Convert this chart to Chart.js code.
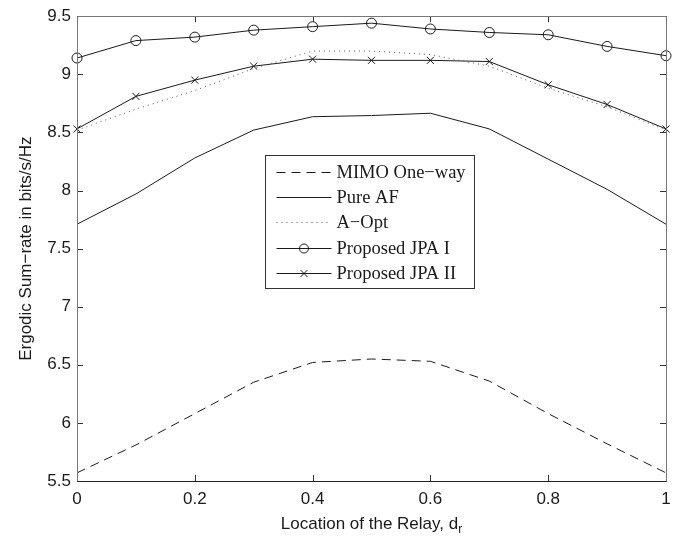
<!DOCTYPE html>
<html>
<head>
<meta charset="utf-8">
<script src="https://cdn.jsdelivr.net/npm/chart.js@4"></script>
<style>
  body { margin: 0; background: #fff; }
  #wrap { width: 690px; height: 542px; }
</style>
</head>
<body>
<div id="wrap"><canvas id="rateChart" width="690" height="542"></canvas></div>
<script>
const relayLocation = [0, 0.1, 0.2, 0.3, 0.4, 0.5, 0.6, 0.7, 0.8, 0.9, 1];
const mimoOneWay = [5.57, 5.81, 6.08, 6.35, 6.52, 6.55, 6.53, 6.36, 6.08, 5.82, 5.57];
const pureAF = [7.71, 7.97, 8.28, 8.52, 8.635, 8.645, 8.665, 8.53, 8.27, 8.01, 7.71];
const aOpt = [8.52, 8.70, 8.86, 9.05, 9.20, 9.20, 9.17, 9.07, 8.88, 8.72, 8.52];
const jpaOne = [9.14, 9.29, 9.32, 9.38, 9.41, 9.44, 9.39, 9.36, 9.34, 9.24, 9.16];
const jpaTwo = [8.53, 8.81, 8.95, 9.07, 9.13, 9.12, 9.12, 9.11, 8.91, 8.74, 8.53];

const xTicks = [0, 0.2, 0.4, 0.6, 0.8, 1];
const yTicks = [5.5, 6, 6.5, 7, 7.5, 8, 8.5, 9, 9.5];
const seriesNames = ['MIMO One\u2212way', 'Pure AF', 'A\u2212Opt', 'Proposed JPA I', 'Proposed JPA II'];

const ink = '#1a1a1a';
const sansFont = '"Liberation Sans", Arial, sans-serif';
const serifFont = '"Liberation Serif", "Times New Roman", serif';

function toPoints(values) {
    return values.map((v, i) => ({ x: relayLocation[i], y: v }));
}

// frame, inward ticks, axis titles and the boxed legend
const framePlugin = {
    id: 'frame',
    afterDraw(chart) {
        const ctx = chart.ctx;
        const a = chart.chartArea;
        const xs = chart.scales.x;
        const ys = chart.scales.y;
        ctx.save();
        ctx.lineWidth = 1;

        ctx.strokeStyle = '#333';
        ctx.beginPath();
        xTicks.forEach(t => {
            const px = Math.round(xs.getPixelForValue(t)) + 0.5;
            ctx.moveTo(px, a.bottom); ctx.lineTo(px, a.bottom - 6);
            ctx.moveTo(px, a.top); ctx.lineTo(px, a.top + 6);
        });
        yTicks.forEach(t => {
            const py = Math.round(ys.getPixelForValue(t)) + 0.5;
            ctx.moveTo(a.left, py); ctx.lineTo(a.left + 6, py);
            ctx.moveTo(a.right, py); ctx.lineTo(a.right - 6, py);
        });
        ctx.stroke();

        const l = Math.round(a.left) + 0.5, r = Math.round(a.right) + 0.5;
        const t = Math.round(a.top) + 0.5, b = Math.round(a.bottom) + 0.5;
        ctx.strokeStyle = '#777';
        ctx.beginPath();
        ctx.moveTo(l, t); ctx.lineTo(r, t);
        ctx.moveTo(l, t); ctx.lineTo(l, b);
        ctx.moveTo(r, t); ctx.lineTo(r, b);
        ctx.stroke();
        ctx.strokeStyle = '#222';
        ctx.beginPath();
        ctx.moveTo(l, b); ctx.lineTo(r, b);
        ctx.stroke();

        // axis titles
        ctx.fillStyle = ink;
        ctx.font = '17px ' + sansFont;
        ctx.textBaseline = 'middle';
        const main = 'Location of the Relay, d';
        const mainW = ctx.measureText(main).width;
        ctx.font = '12px ' + sansFont;
        const subW = ctx.measureText('r').width;
        const cx = (a.left + a.right) / 2;
        let x0 = cx - (mainW + subW) / 2;
        ctx.font = '17px ' + sansFont;
        ctx.textAlign = 'left';
        ctx.fillText(main, x0, 524);
        ctx.font = '12px ' + sansFont;
        ctx.fillText('r', x0 + mainW, 530);

        ctx.font = '17px ' + sansFont;
        ctx.translate(26, (a.top + a.bottom) / 2);
        ctx.rotate(-Math.PI / 2);
        ctx.textAlign = 'center';
        ctx.fillText('Ergodic Sum\u2212rate in bits/s/Hz', 0, 0);
        ctx.restore();

        // legend
        ctx.save();
        const bx = 265.5, by = 155.5, bw = 209, bh = 133;
        ctx.fillStyle = '#fff';
        ctx.fillRect(bx, by, bw, bh);
        ctx.strokeStyle = '#333';
        ctx.lineWidth = 1;
        ctx.strokeRect(bx, by, bw, bh);
        ctx.font = '18.5px ' + serifFont;
        ctx.textBaseline = 'middle';
        ctx.textAlign = 'left';
        chart.data.datasets.forEach((ds, i) => {
            const yy = Math.round(by + 16 + i * 25.4) + 0.5;
            ctx.strokeStyle = ds.borderColor;
            ctx.lineWidth = 1;
            ctx.setLineDash(ds.borderDash || []);
            ctx.beginPath();
            ctx.moveTo(bx + 11, yy);
            ctx.lineTo(bx + 66, yy);
            ctx.stroke();
            ctx.setLineDash([]);
            if (ds.pointRadius > 0) {
                const mx = bx + 38.5;
                ctx.beginPath();
                if (ds.pointStyle === 'circle') {
                    ctx.arc(mx, yy, 4.5, 0, Math.PI * 2);
                } else {
                    ctx.moveTo(mx - 3.5, yy - 3.5); ctx.lineTo(mx + 3.5, yy + 3.5);
                    ctx.moveTo(mx + 3.5, yy - 3.5); ctx.lineTo(mx - 3.5, yy + 3.5);
                }
                ctx.stroke();
            }
            ctx.fillStyle = ink;
            ctx.fillText(ds.label, bx + 71, yy + 1);
        });
        ctx.restore();
    }
};

const lineBase = {
    borderColor: ink,
    borderWidth: 1,
    fill: false,
    tension: 0,
    pointRadius: 0,
    pointHoverRadius: 0,
    clip: false
};

new Chart(document.getElementById('rateChart'), {
    type: 'line',
    data: {
        datasets: [
            { ...lineBase, label: seriesNames[0], data: toPoints(mimoOneWay), borderDash: [9, 6] },
            { ...lineBase, label: seriesNames[1], data: toPoints(pureAF) },
            { ...lineBase, label: seriesNames[2], data: toPoints(aOpt), borderDash: [1, 4], borderColor: '#555' },
            { ...lineBase, label: seriesNames[3], data: toPoints(jpaOne), pointRadius: 5, pointStyle: 'circle',
              pointBorderColor: ink, pointBackgroundColor: 'rgba(0,0,0,0)', pointBorderWidth: 1 },
            { ...lineBase, label: seriesNames[4], data: toPoints(jpaTwo), pointRadius: 5, pointStyle: 'crossRot',
              pointBorderColor: ink, pointBorderWidth: 1 }
        ]
    },
    options: {
        responsive: false,
        animation: false,
        events: [],
        layout: { padding: { left: 0, right: 24, top: 11, bottom: 0 } },
        plugins: {
            legend: { display: false },
            tooltip: { enabled: false }
        },
        scales: {
            x: {
                type: 'linear',
                min: 0,
                max: 1,
                afterBuildTicks: scale => { scale.ticks = xTicks.map(v => ({ value: v })); },
                afterFit: scale => { scale.height = 61; },
                grid: { display: false, drawTicks: false },
                border: { display: false },
                ticks: {
                    padding: 8,
                    maxRotation: 0,
                    color: ink,
                    font: { family: sansFont, size: 17 },
                    callback: v => String(v)
                }
            },
            y: {
                min: 5.5,
                max: 9.5,
                afterBuildTicks: scale => { scale.ticks = yTicks.map(v => ({ value: v })); },
                afterFit: scale => { scale.width = 77; },
                grid: { display: false, drawTicks: false },
                border: { display: false },
                ticks: {
                    padding: 6,
                    color: ink,
                    font: { family: sansFont, size: 17 },
                    callback: v => String(v)
                }
            }
        }
    },
    plugins: [framePlugin]
});
</script>
</body>
</html>
